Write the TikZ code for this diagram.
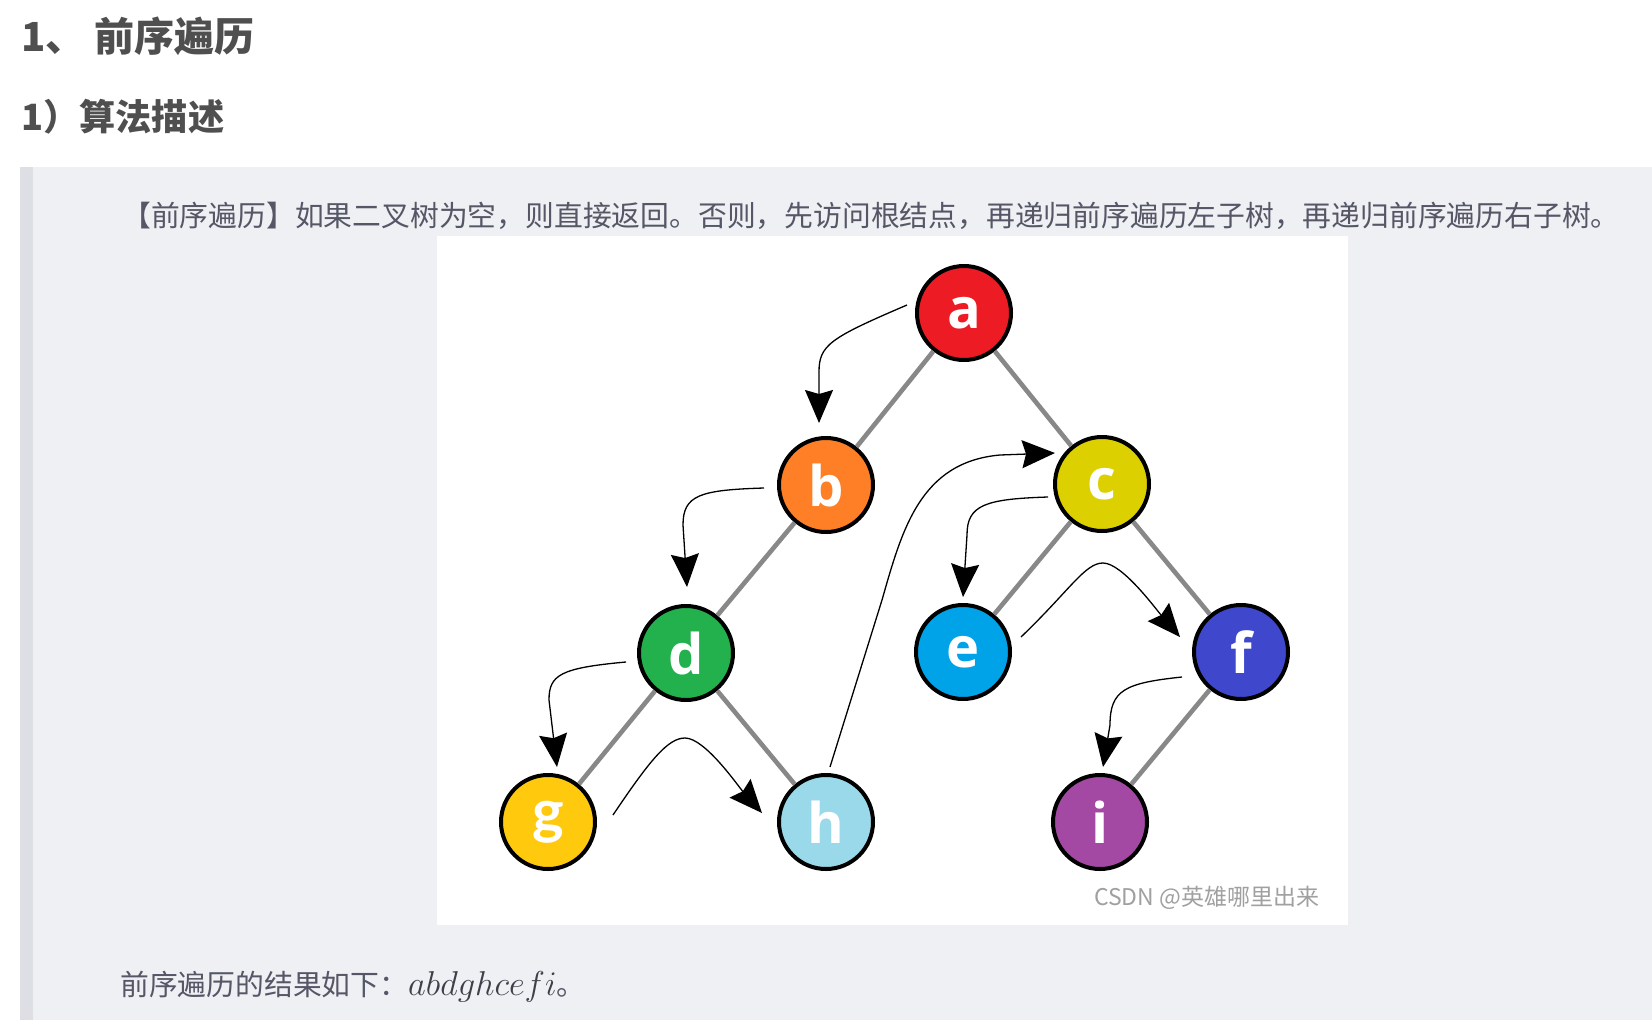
\RequirePackage{fix-cm}
\documentclass[tikz,border=0pt]{standalone}
\usepackage{fontspec}
\setmainfont{Noto Sans CJK SC}
\newfontfamily\letterfont{Open Sans}
\newfontfamily\gfont{Lato}
\usetikzlibrary{arrows.meta}
\definecolor{headc}{HTML}{4F4F4F}
\definecolor{bodyc}{HTML}{555666}
\definecolor{mathc}{HTML}{3F3F4A}
\definecolor{quotebg}{HTML}{EEF0F4}
\definecolor{quotebar}{HTML}{DDDFE4}
\definecolor{edgegray}{HTML}{888888}
\definecolor{wmgray}{HTML}{A0A0A0}
\definecolor{ca}{HTML}{ED1C24}
\definecolor{cb}{HTML}{FF7F27}
\definecolor{cc}{HTML}{DCD000}
\definecolor{cd}{HTML}{22B14C}
\definecolor{ce}{HTML}{00A2E8}
\definecolor{cf}{HTML}{3F48CC}
\definecolor{cg}{HTML}{FFC90E}
\definecolor{ch}{HTML}{99D9EA}
\definecolor{ci}{HTML}{A349A4}
\tikzset{
  tnode/.style={circle, draw=black, line width=4pt, minimum size=94pt, inner sep=0pt,
    font=\letterfont\bfseries\fontsize{56}{56}\selectfont, text=white},
  tedge/.style={draw=edgegray, line width=4.6pt},
  trav/.style={line width=1.3pt, -{Stealth[length=33pt,width=28pt,inset=4pt]}},
  txt/.style={anchor=base west, inner sep=0pt},
}
\begin{document}
\begin{tikzpicture}[x=1pt,y=-1pt]
\useasboundingbox (0,0) rectangle (1652,1020);
\fill[white] (0,0) rectangle (1652,1020);
% blockquote
\fill[quotebg] (20,167) rectangle (1652,1020);
\fill[quotebar] (20,167) rectangle (33,1020);
% image box
\fill[white] (437,236) rectangle (1348,925);

% headings
\node[txt, font=\bfseries\fontsize{40}{42}\selectfont, text=headc] (h1) at (21,51) {1、 前序遍历};
\node[txt, font=\bfseries\fontsize{36.2}{40}\selectfont, text=headc] (h2) at (21,130) {1）算法描述};
\node[txt, font=\fontsize{28.8}{30}\selectfont, text=bodyc] (p1) at (122,226)
  {【前序遍历】如果二叉树为空，则直接返回。否则，先访问根结点，再递归前序遍历左子树，再递归前序遍历右子树。};
\node[txt, font=\fontsize{28.8}{30}\selectfont, text=bodyc] (p2) at (120,995)
  {前序遍历的结果如下：{\fontsize{34.5}{36}\selectfont\color{mathc}$abdghcefi$}。};

% tree nodes
\node[tnode, fill=ca] (a) at (964,313) {a};
\node[tnode, fill=cb] (b) at (826,485) {b};
\node[tnode, fill=cc] (c) at (1102,484) {c};
\node[tnode, fill=cd] (d) at (686,653) {d};
\node[tnode, fill=ce] (e) at (963,652) {e};
\node[tnode, fill=cf] (f) at (1241,652) {f};
\node[tnode, fill=cg, font=\gfont\bfseries\fontsize{60}{60}\selectfont] (g) at (548,822) {g};
\node[tnode, fill=ch] (h) at (826,822) {h};
\node[tnode, fill=ci] (i) at (1100,822) {i};

% tree edges
\draw[tedge] (a) -- (b);
\draw[tedge] (a) -- (c);
\draw[tedge] (b) -- (d);
\draw[tedge] (c) -- (e);
\draw[tedge] (c) -- (f);
\draw[tedge] (d) -- (g);
\draw[tedge] (d) -- (h);
\draw[tedge] (f) -- (i);

% traversal arrow ends
\coordinate (s1) at (907,305);  \coordinate (t1) at (819,423);
\coordinate (s2) at (764,488);  \coordinate (t2) at (687,587);
\coordinate (s3) at (626,662);  \coordinate (t3) at (557,767);
\coordinate (s4) at (613,815);  \coordinate (t4) at (762,813);
\coordinate (s5) at (830,767);  \coordinate (t5) at (1055,453);
\coordinate (s6) at (1048,497); \coordinate (t6) at (963,597);
\coordinate (s7) at (1021,637); \coordinate (t7) at (1180,637);
\coordinate (s8) at (1182,677); \coordinate (t8) at (1103,767);

\draw[trav] (s1) .. controls (830,338) and (819,345) .. (819,372) -- (t1);
\draw[trav] (s2) .. controls (700,490) and (683,495) .. (683,525) -- (t2);
\draw[trav] (s3) .. controls (560,668) and (549,675) .. (549,700) -- (t3);
\draw[trav] (s4) .. controls (650,760) and (668,738) .. (685,738)
                 .. controls (705,738) and (738,786) .. (t4);
\draw[trav] (s5) -- (882,600) .. controls (902,530) and (920,462) .. (1000,455) -- (t5);
\draw[trav] (s6) .. controls (985,499) and (967,505) .. (967,535) -- (t6);
\draw[trav] (s7) .. controls (1070,590) and (1085,563) .. (1103,563)
                 .. controls (1122,563) and (1155,608) .. (t7);
\draw[trav] (s8) .. controls (1125,683) and (1110,690) .. (1110,725) -- (t8);

% watermark
\node[txt, font=\fontsize{23}{24}\selectfont, text=wmgray] (wm) at (1094,905) {CSDN @英雄哪里出来};
\end{tikzpicture}
\end{document}
